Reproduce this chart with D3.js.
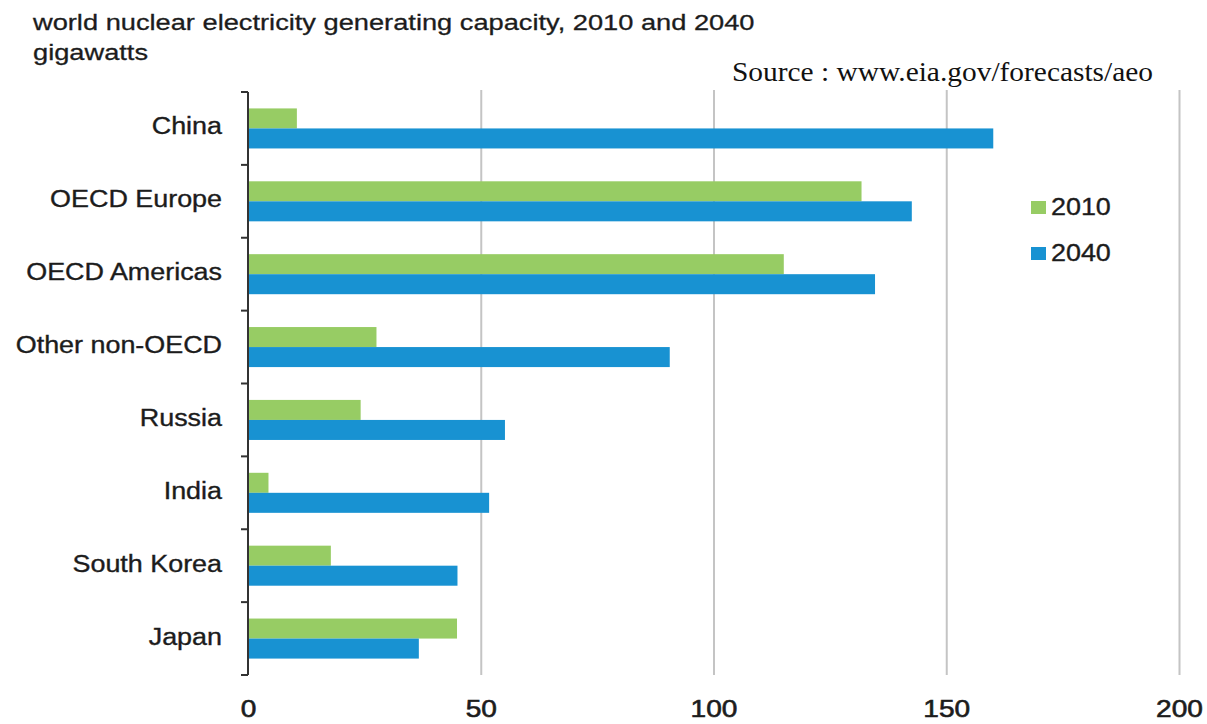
<!DOCTYPE html>
<html>
<head>
<meta charset="utf-8">
<script src="https://cdn.jsdelivr.net/npm/d3@7"></script>
<style>
  html, body { margin: 0; padding: 0; background: #fff; }
  svg { display: block; }
</style>
</head>
<body>
<svg id="chart" width="1207" height="724"></svg>
<script>
// World nuclear electricity generating capacity (GW)
const regions = ["China", "OECD Europe", "OECD Americas", "Other non-OECD",
                 "Russia", "India", "South Korea", "Japan"];
const cap2010 = [10.5, 131.8, 115.1, 27.6, 24.2, 4.4, 17.8, 44.9];
const cap2040 = [160.1, 142.6, 134.7, 90.6, 55.2, 51.8, 45.0, 36.7];
const seriesNames = ["2010", "2040"];
const seriesColors = ["#97cc64", "#1892d2"];
const xTicks = [0, 50, 100, 150, 200];

const titleLines = ["world nuclear electricity generating capacity, 2010 and 2040", "gigawatts"];
const sourceText = "Source : www.eia.gov/forecasts/aeo";

const svg = d3.select("#chart");
const FONT = "'Liberation Sans', Arial, sans-serif";
const SX = 1.17;   // horizontal stretch of the sans-serif lettering
const ink = "#1c1c1c";

const x = d3.scaleLinear().domain([0, 200]).range([248, 1179]);
const y = d3.scaleBand().domain(regions).range([92, 675]).paddingInner(0).paddingOuter(0);
const ySub = d3.scaleBand().domain(seriesNames).range([0, y.bandwidth()])
  .paddingInner(0).paddingOuter(0.82);

const data = regions.map((r, i) => ({ region: r, values: [cap2010[i], cap2040[i]] }));

function stretched(sel, px, py, k) {
  return sel.attr("x", 0).attr("y", 0)
    .attr("transform", `translate(${px},${py}) scale(${k},1)`);
}

// vertical gridlines
svg.append("g")
  .attr("transform", "translate(0,675)")
  .call(d3.axisBottom(x).tickValues(xTicks.filter(v => v > 0)).tickSize(-585).tickFormat(""))
  .call(g => g.select(".domain").remove())
  .call(g => g.selectAll("line").attr("stroke", "#c4c4c4").attr("stroke-width", 2));

// bars
const groups = svg.append("g").selectAll("g")
  .data(data).join("g")
  .attr("transform", d => `translate(0,${y(d.region)})`);

groups.selectAll("rect")
  .data(d => d.values.map((v, j) => ({ key: seriesNames[j], v, j })))
  .join("rect")
  .attr("x", x(0))
  .attr("y", d => ySub(d.key))
  .attr("width", d => x(d.v) - x(0))
  .attr("height", ySub.bandwidth())
  .attr("fill", d => seriesColors[d.j]);

// category axis: line with ticks at band boundaries
const yAxis = svg.append("g");
yAxis.append("line")
  .attr("x1", x(0)).attr("x2", x(0))
  .attr("y1", y.range()[0]).attr("y2", y.range()[1])
  .attr("stroke", "#333").attr("stroke-width", 2);
const bounds = regions.map(r => y(r)).concat([y.range()[1]]);
yAxis.selectAll("line.tick").data(bounds).join("line")
  .attr("class", "tick")
  .attr("x1", x(0) - 7).attr("x2", x(0))
  .attr("y1", d => d).attr("y2", d => d)
  .attr("stroke", "#333").attr("stroke-width", 2);

// category labels
svg.append("g").selectAll("text")
  .data(regions).join("text")
  .each(function (r) {
    stretched(d3.select(this), 222, y(r) + y.bandwidth() / 2 + 6, SX);
  })
  .attr("text-anchor", "end")
  .attr("font-family", FONT).attr("font-size", 23).attr("fill", ink)
  .attr("stroke", ink).attr("stroke-width", 0.35)
  .text(d => d);

// value axis labels
svg.append("g")
  .attr("transform", "translate(0,675)")
  .call(d3.axisBottom(x).tickValues(xTicks).tickSize(0).tickFormat(d3.format("d")))
  .call(g => g.select(".domain").remove())
  .call(g => g.selectAll("text")
    .attr("y", 0).attr("dy", null)
    .attr("transform", `translate(0,42) scale(${SX},1)`)
    .attr("font-family", FONT).attr("font-size", 24)
    .attr("fill", ink).attr("stroke", ink).attr("stroke-width", 0.6));

// legend
const legend = svg.append("g");
seriesNames.forEach((name, i) => {
  const cy = 207 + i * 46;
  legend.append("rect")
    .attr("x", 1031).attr("y", cy - 6).attr("width", 15).attr("height", 13)
    .attr("fill", seriesColors[i]);
  stretched(legend.append("text"), 1051, cy + 8, SX)
    .attr("font-family", FONT).attr("font-size", 23).attr("fill", ink)
    .attr("stroke", ink).attr("stroke-width", 0.35)
    .text(name);
});

// title
titleLines.forEach((t, i) => {
  stretched(svg.append("text"), 33, 30 + i * 30, 1.2)
    .attr("font-family", FONT).attr("font-size", 22.7).attr("fill", ink)
    .attr("stroke", ink).attr("stroke-width", 0.3)
    .text(t);
});

// source note
svg.append("text")
  .attr("x", 732).attr("y", 81)
  .attr("font-family", "'Liberation Serif', 'Times New Roman', serif")
  .attr("font-size", 27).attr("fill", "#111")
  .attr("textLength", 421).attr("lengthAdjust", "spacingAndGlyphs")
  .text(sourceText);
</script>
</body>
</html>
